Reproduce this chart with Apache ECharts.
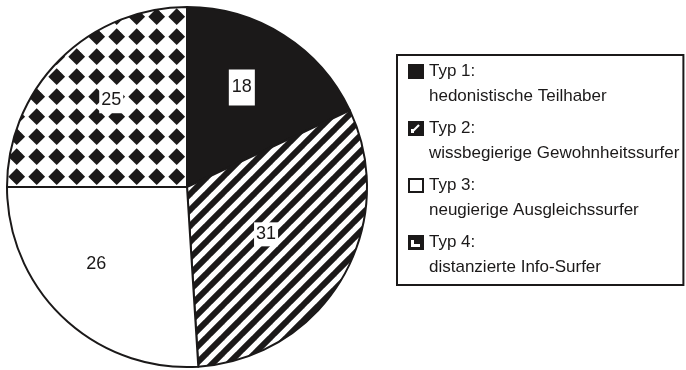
<!DOCTYPE html>
<html>
<head>
<meta charset="utf-8">
<script src="https://cdn.jsdelivr.net/npm/echarts@6/dist/echarts.min.js"></script>
<style>
html, body { margin: 0; padding: 0; background: #fff; }
#chart { width: 686px; height: 370px; }
</style>
</head>
<body>
<div id="chart"></div>
<script>
// Nutzertypen (Anteile in %)
const typeNames = ['Typ 1:', 'Typ 2:', 'Typ 3:', 'Typ 4:'];
const typeLabels = ['hedonistische Teilhaber', 'wissbegierige Gewohnheitssurfer', 'neugierige Ausgleichssurfer', 'distanzierte Info-Surfer'];
const shares = [18, 31, 26, 25];

const INK = '#1b1919';
const FONT = "'Liberation Sans', Arial, sans-serif";

function makeCanvas(w, h, draw, bg) {
    const c = document.createElement('canvas');
    c.width = w;
    c.height = h;
    const ctx = c.getContext('2d');
    if (bg !== false) {
        ctx.fillStyle = '#fff';
        ctx.fillRect(0, 0, w, h);
    }
    ctx.fillStyle = INK;
    ctx.strokeStyle = INK;
    draw(ctx);
    return c;
}

// schraffur "/"
const P = 16;
const hatch = makeCanvas(P, P, ctx => {
    ctx.lineWidth = 6;
    [-P, 0, P].forEach(x0 => {
        ctx.beginPath();
        ctx.moveTo(x0 - 2, P + 2);
        ctx.lineTo(x0 + P + 2, -2);
        ctx.stroke();
    });
});

// rauten
const diamonds = makeCanvas(20, 20, ctx => {
    const h = 8.4;
    [-1, 0].forEach(i => [-1, 0].forEach(j => {
        const cx = 16.7 + i * 20, cy = 16.7 + j * 20;
        ctx.beginPath();
        ctx.moveTo(cx, cy - h);
        ctx.lineTo(cx + h, cy);
        ctx.lineTo(cx, cy + h);
        ctx.lineTo(cx - h, cy);
        ctx.closePath();
        ctx.fill();
    }));
});

// kleine legenden-symbole: quadrat oben, darunter transparent (damit es neben der 1. zeile steht)
const iconH = 40;
const icons = [
    ctx => { ctx.fillRect(0, 0, 16, 15); },
    ctx => {
        ctx.fillRect(0, 0, 16, 15);
        ctx.strokeStyle = '#fff';
        ctx.lineWidth = 2.2;
        ctx.beginPath(); ctx.moveTo(4, 11); ctx.lineTo(11, 4); ctx.stroke();
        ctx.fillStyle = '#fff';
        ctx.fillRect(3, 8, 3, 4);
    },
    ctx => {
        ctx.fillStyle = '#fff';
        ctx.fillRect(0, 0, 16, 15);
        ctx.lineWidth = 2;
        ctx.strokeRect(1, 1, 14, 13);
    },
    ctx => {
        ctx.fillRect(0, 0, 16, 15);
        ctx.fillStyle = '#fff';
        ctx.fillRect(3, 5, 3, 7);
        ctx.fillRect(3, 9, 9, 3);
    }
].map(d => 'image://' + makeCanvas(16, iconH, d, false).toDataURL());

const fills = [INK, { image: hatch, repeat: 'repeat' }, '#fff', { image: diamonds, repeat: 'repeat' }];

// label-feinjustierung je segment
const labelTweaks = [
    { offset: [5, -21], backgroundColor: '#fff', padding: [9, 3] },
    { offset: [-1, 0], backgroundColor: '#fff', padding: [3, 2] },
    { offset: [-27, 9] },
    { offset: [-10, -21], backgroundColor: '#fff', padding: [2, 2, 6, 2] }
];

const chart = echarts.init(document.getElementById('chart'));
chart.setOption({
    backgroundColor: '#fff',
    animation: false,
    legend: {
        orient: 'vertical',
        left: 397,
        top: 55,
        data: typeNames.map((n, i) => ({ name: n, icon: icons[i] })),
        formatter: name => name + '\n' + typeLabels[typeNames.indexOf(name)],
        itemWidth: 16,
        itemHeight: iconH,
        itemGap: 7,
        padding: [4, 4, 5, 11],
        borderColor: INK,
        borderWidth: 2,
        selectedMode: false,
        textStyle: { fontFamily: FONT, fontSize: 17, lineHeight: 25, color: INK }
    },
    series: [{
        type: 'pie',
        center: [187, 187],
        radius: 180,
        startAngle: 90,
        clockwise: true,
        avoidLabelOverlap: false,
        silent: true,
        itemStyle: { borderColor: INK, borderWidth: 2 },
        label: {
            show: true,
            position: 'inside',
            formatter: '{c}',
            fontFamily: FONT,
            fontSize: 18,
            color: INK
        },
        labelLine: { show: false },
        data: shares.map((v, i) => ({
            name: typeNames[i],
            value: v,
            itemStyle: { color: fills[i] },
            label: labelTweaks[i]
        }))
    }]
});
</script>
</body>
</html>
